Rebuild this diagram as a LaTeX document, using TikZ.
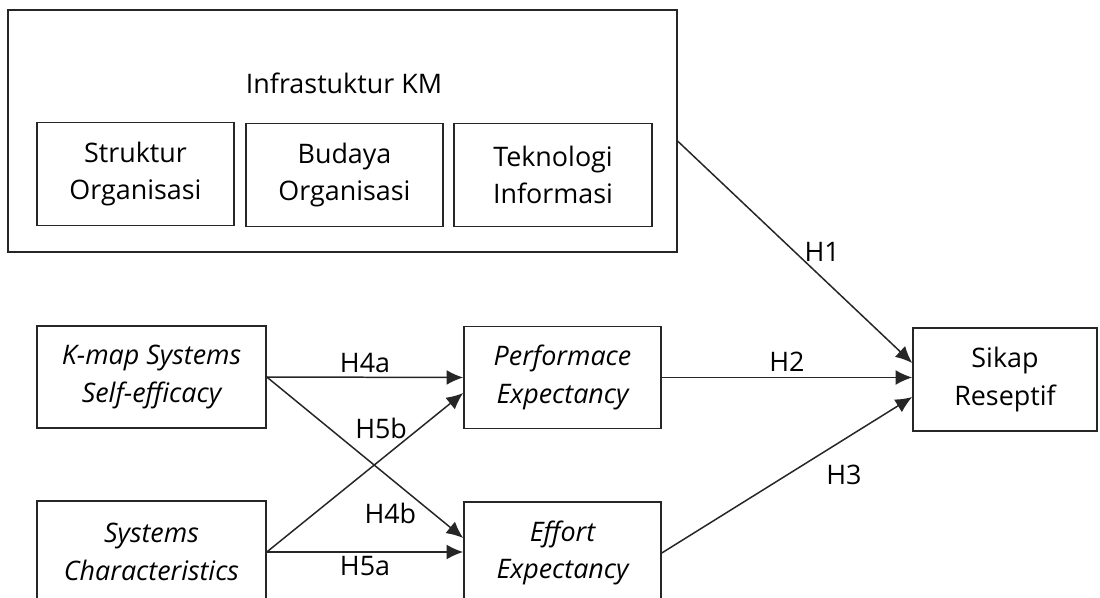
\documentclass[tikz,border=0pt]{standalone}
\usepackage{fontspec}
\setmainfont{Open Sans}
\usetikzlibrary{arrows.meta,positioning,calc}

\def\pxu{0.02cm}

\begin{document}
\begin{tikzpicture}[x=0.02cm, y=-0.02cm]
    \tikzstyle{box} = [shape=rectangle, draw=black!85, line width=0.9pt, align=center, inner sep=0pt, font=\fontsize{15.3pt}{21.5pt}\selectfont];
    \tikzstyle{ibox} = [box, font=\fontsize{15.3pt}{21.5pt}\selectfont\itshape];
    \tikzstyle{lbl} = [font=\fontsize{15.3pt}{17pt}\selectfont, inner sep=2pt];

    \useasboundingbox (0,0) rectangle (1100,598);

    % infrastruktur KM
    \node[box, minimum width=669*\pxu, minimum height=242*\pxu](KM) at (342.5,131) {};
    \node[lbl](KMtitle) at (344,83) {Infrastuktur KM};
    \node[box, minimum width=197*\pxu, minimum height=103*\pxu](SO) at (135.5,174) {Struktur\\Organisasi};
    \node[box, minimum width=197*\pxu, minimum height=103*\pxu](BO) at (344.5,175) {Budaya\\Organisasi};
    \node[box, minimum width=198*\pxu, minimum height=103*\pxu](TI) at (553,175) {Teknologi\\Informasi};

    % model
    \node[ibox, minimum width=229*\pxu, minimum height=102*\pxu](KSE) at (151.5,377) {K-map Systems\\Self-efficacy};
    \node[ibox, minimum width=229*\pxu, minimum height=102*\pxu](SC) at (151.5,552) {Systems\\Characteristics};
    \node[ibox, minimum width=197*\pxu, minimum height=102*\pxu](PE) at (562.5,377.5) {Performace\\Expectancy};
    \node[ibox, minimum width=197*\pxu, minimum height=102*\pxu](EE) at (562.5,553) {Effort\\Expectancy};
    \node[box, minimum width=184*\pxu, minimum height=103*\pxu](SR) at (1005,379.5) {Sikap\\Reseptif};

    \path[every edge/.style={draw, -{Latex[length=9.5pt,width=8.5pt]}, line width=0.85pt, draw=black!85}, every node/.style={lbl}]
        ($(KM.north east)+(0,132)$) edge node[pos=0.5, right=3pt]{H1} ($(SR.west)+(0,-16.5)$)
        (PE.east) edge node[midway, above=1pt]{H2} (PE.east -| SR.west)
        (EE.east) edge node[pos=0.5, right=20pt]{H3} ($(SR.west)+(0,17.5)$)
        (KSE.east) edge node[midway, above=0pt]{H4a} (PE.west)
        (KSE.east) edge node[pos=0.845, left=7pt]{H4b} ($(EE.west)+(0,-15)$)
        (SC.east) edge node[midway, below=0pt]{H5a} (SC.east -| EE.west)
        (SC.east) edge node[pos=0.78, left=5pt]{H5b} ($(PE.west)+(0,15.5)$)
    ;
\end{tikzpicture}
\end{document}
